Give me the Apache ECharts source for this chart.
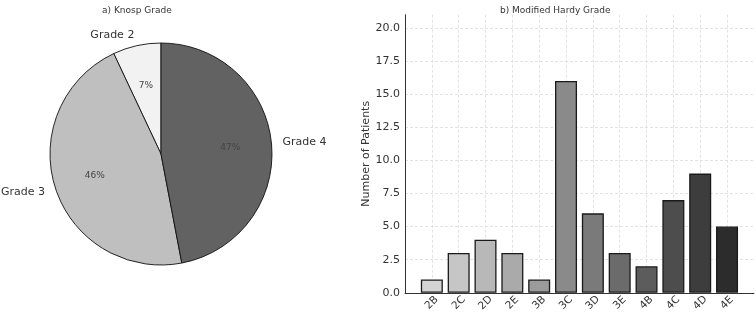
<!DOCTYPE html>
<html>
<head>
<meta charset="utf-8">
<script src="https://cdn.jsdelivr.net/npm/echarts@6/dist/echarts.min.js"></script>
<style>
  html, body { margin: 0; padding: 0; background: #fff; }
  #main { width: 756px; height: 314px; }
</style>
</head>
<body>
<div id="main"></div>
<script>
// a) Knosp grade, share of patients (%)
const knospGrades = ['Grade 2', 'Grade 3', 'Grade 4'];
const knospPercents = [7, 46, 47];

// b) modified Hardy grade, patient counts
const hardyGrades = ['2B', '2C', '2D', '2E', '3B', '3C', '3D', '3E', '4B', '4C', '4D', '4E'];
const hardyCounts = [1, 3, 4, 3, 1, 16, 6, 3, 2, 7, 9, 5];

const pieShades = ['#f2f2f2', '#bfbfbf', '#626262'];
const barShades = ['#d3d3d3', '#c6c6c6', '#b8b8b8', '#aaaaaa', '#9b9b9b', '#8a8a8a',
                   '#7a7a7a', '#6b6b6b', '#5c5c5c', '#4d4d4d', '#3d3d3d', '#2c2c2c'];

const font = 'DejaVu Sans';
const chart = echarts.init(document.getElementById('main'), null, { renderer: 'canvas' });

const pieData = knospGrades.map((g, i) => ({
  name: g,
  value: knospPercents[i],
  itemStyle: { color: pieShades[i] }
}));

const barData = hardyGrades.map((g, i) => ({
  value: [i, hardyCounts[i]],
  itemStyle: { color: barShades[i] }
}));

const option = {
  backgroundColor: '#fff',
  animation: false,
  title: [
    {
      text: 'a) Knosp Grade',
      left: 97, top: 1,
      textStyle: { fontFamily: font, fontSize: 9, fontWeight: 'normal', color: '#333' }
    },
    {
      text: 'b) Modified Hardy Grade',
      left: 495, top: 1,
      textStyle: { fontFamily: font, fontSize: 9, fontWeight: 'normal', color: '#333' }
    }
  ],
  grid: { left: 405, right: 2, top: 14.75, bottom: 21 },
  xAxis: {
    type: 'value',
    min: -1,
    max: 12,
    interval: 1,
    axisLine: { onZero: false, lineStyle: { color: '#333', width: 1 } },
    axisTick: { show: false },
    axisLabel: {
      fontFamily: font,
      fontSize: 10.5,
      color: '#333',
      rotate: 45,
      margin: 10,
      align: 'center',
      verticalAlign: 'middle',
      formatter: v => hardyGrades[v] || ''
    },
    splitLine: {
      show: true,
      showMinLine: false,
      showMaxLine: false,
      lineStyle: { color: '#dcdcdc', width: 0.8, type: [3, 2] }
    }
  },
  yAxis: {
    type: 'value',
    min: 0,
    max: 21,
    interval: 2.5,
    name: 'Number of Patients',
    nameLocation: 'middle',
    nameGap: 30,
    nameTextStyle: { fontFamily: font, fontSize: 11, color: '#333' },
    axisLine: { show: true, onZero: false, lineStyle: { color: '#333', width: 1 } },
    axisTick: { show: false },
    axisLabel: {
      fontFamily: font,
      fontSize: 11,
      color: '#333',
      margin: 5,
      formatter: v => (v % 2.5 === 0 ? v.toFixed(1) : '')
    },
    splitLine: {
      show: true,
      showMinLine: false,
      showMaxLine: false,
      lineStyle: { color: '#dcdcdc', width: 0.8, type: [3, 2] }
    }
  },
  series: [
    {
      // 饼图本体 + 外部标签
      type: 'pie',
      center: [161, 154],
      radius: 111,
      startAngle: 90,
      clockwise: false,
      avoidLabelOverlap: false,
      silent: true,
      data: pieData,
      itemStyle: { borderColor: '#111', borderWidth: 0.9 },
      label: {
        show: true,
        position: 'outside',
        distanceToLabelLine: 0,
        fontFamily: font,
        fontSize: 11,
        color: '#333',
        formatter: '{b}'
      },
      labelLine: { show: false, length: 11, length2: 0 }
    },
    {
      // 百分比标签（透明，半径 1.2r 使标签落在 0.6r）
      type: 'pie',
      center: [161, 154],
      radius: 133.2,
      startAngle: 90,
      clockwise: false,
      silent: true,
      data: pieData.map(d => ({ name: d.name, value: d.value })),
      itemStyle: { color: 'transparent', borderWidth: 0 },
      label: {
        show: true,
        position: 'inside',
        fontFamily: font,
        fontSize: 9,
        color: '#444',
        formatter: p => Math.round(p.percent) + '%'
      },
      labelLine: { show: false },
      emphasis: { disabled: true }
    },
    {
      type: 'bar',
      data: barData,
      barWidth: 22,
      itemStyle: { borderColor: '#1a1a1a', borderWidth: 1.3 },
      silent: true
    }
  ]
};

chart.setOption(option);
</script>
</body>
</html>
